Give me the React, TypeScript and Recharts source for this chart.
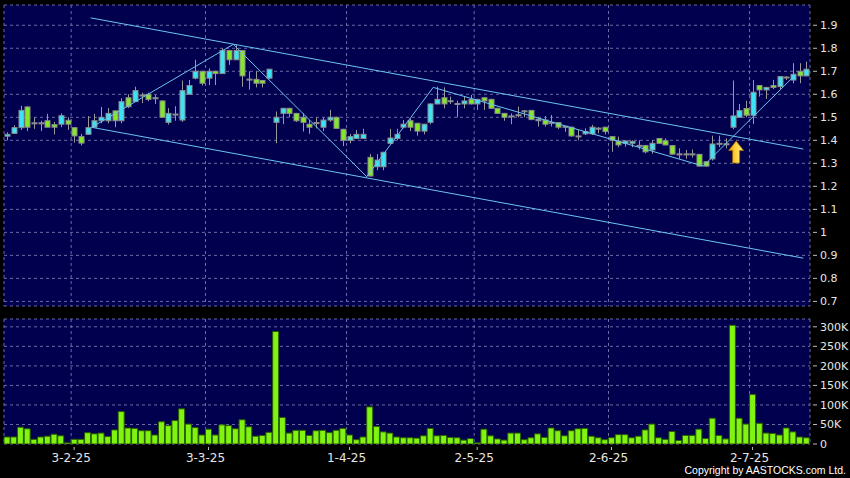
import React from "react";
import { ComposedChart, Bar, XAxis, YAxis, CartesianGrid, ReferenceLine, ReferenceDot } from "recharts";

// daily OHLC (120 sessions)
const opens = [
  1.418, 1.43, 1.455, 1.545, 1.474, 1.474, 1.485, 1.468, 1.47, 1.487,
  1.455, 1.416, 1.426, 1.457, 1.485, 1.485, 1.528, 1.485, 1.585, 1.568,
  1.593, 1.6, 1.583, 1.571, 1.478, 1.512, 1.488, 1.6, 1.67, 1.7,
  1.67, 1.7, 1.69, 1.79, 1.75, 1.79, 1.663, 1.665, 1.66, 1.67,
  1.478, 1.517, 1.539, 1.517, 1.5, 1.47, 1.474, 1.457, 1.488, 1.5,
  1.448, 1.4, 1.408, 1.408, 1.326, 1.285, 1.285, 1.387, 1.408, 1.457,
  1.485, 1.474, 1.44, 1.478, 1.558, 1.585, 1.569, 1.557, 1.558, 1.578,
  1.558, 1.585, 1.578, 1.539, 1.517, 1.504, 1.509, 1.526, 1.53, 1.485,
  1.488, 1.476, 1.477, 1.459, 1.457, 1.416, 1.428, 1.428, 1.451, 1.457,
  1.416, 1.397, 1.387, 1.387, 1.376, 1.377, 1.358, 1.408, 1.398, 1.377,
  1.339, 1.339, 1.339, 1.339, 1.307, 1.319, 1.387, 1.383, 1.457, 1.5,
  1.538, 1.509, 1.638, 1.619, 1.638, 1.633, 1.673, 1.662, 1.7, 1.68,
];
const highs = [
  1.435, 1.465, 1.55, 1.548, 1.5, 1.485, 1.515, 1.48, 1.517, 1.5,
  1.455, 1.428, 1.505, 1.515, 1.545, 1.54, 1.53, 1.583, 1.6, 1.633,
  1.607, 1.607, 1.597, 1.575, 1.54, 1.548, 1.66, 1.662, 1.75, 1.702,
  1.713, 1.702, 1.8, 1.793, 1.815, 1.792, 1.7, 1.7, 1.662, 1.71,
  1.525, 1.541, 1.541, 1.519, 1.517, 1.488, 1.5, 1.5, 1.532, 1.502,
  1.45, 1.428, 1.445, 1.45, 1.34, 1.34, 1.35, 1.45, 1.45, 1.488,
  1.495, 1.476, 1.472, 1.56, 1.633, 1.63, 1.59, 1.572, 1.59, 1.597,
  1.58, 1.587, 1.58, 1.541, 1.519, 1.517, 1.546, 1.532, 1.532, 1.5,
  1.505, 1.51, 1.479, 1.462, 1.459, 1.445, 1.452, 1.467, 1.457, 1.459,
  1.418, 1.416, 1.4, 1.4, 1.4, 1.38, 1.4, 1.41, 1.408, 1.379,
  1.365, 1.358, 1.36, 1.341, 1.309, 1.42, 1.42, 1.409, 1.66, 1.558,
  1.572, 1.662, 1.64, 1.632, 1.662, 1.679, 1.679, 1.735, 1.735, 1.742,
];
const lows = [
  1.4, 1.428, 1.445, 1.44, 1.45, 1.44, 1.457, 1.425, 1.457, 1.445,
  1.39, 1.378, 1.426, 1.457, 1.474, 1.474, 1.457, 1.474, 1.54, 1.568,
  1.562, 1.57, 1.558, 1.498, 1.468, 1.485, 1.48, 1.6, 1.665, 1.638,
  1.64, 1.64, 1.69, 1.728, 1.75, 1.633, 1.62, 1.63, 1.63, 1.665,
  1.387, 1.47, 1.5, 1.48, 1.438, 1.428, 1.452, 1.44, 1.48, 1.45,
  1.375, 1.387, 1.406, 1.406, 1.242, 1.27, 1.27, 1.385, 1.4, 1.452,
  1.44, 1.42, 1.426, 1.47, 1.556, 1.539, 1.558, 1.5, 1.539, 1.556,
  1.532, 1.532, 1.537, 1.515, 1.485, 1.47, 1.5, 1.5, 1.488, 1.46,
  1.46, 1.46, 1.448, 1.437, 1.416, 1.4, 1.423, 1.423, 1.43, 1.426,
  1.35, 1.37, 1.372, 1.37, 1.36, 1.343, 1.342, 1.385, 1.378, 1.338,
  1.32, 1.32, 1.325, 1.286, 1.285, 1.312, 1.37, 1.365, 1.448, 1.498,
  1.5, 1.471, 1.59, 1.58, 1.622, 1.619, 1.662, 1.648, 1.648, 1.678,
];
const closes = [
  1.426, 1.455, 1.53, 1.457, 1.476, 1.476, 1.457, 1.457, 1.507, 1.47,
  1.419, 1.388, 1.455, 1.485, 1.5, 1.517, 1.485, 1.568, 1.546, 1.616,
  1.597, 1.578, 1.585, 1.5, 1.517, 1.514, 1.616, 1.638, 1.7, 1.648,
  1.7, 1.69, 1.79, 1.75, 1.79, 1.68, 1.666, 1.648, 1.648, 1.709,
  1.5, 1.539, 1.517, 1.485, 1.478, 1.457, 1.477, 1.488, 1.5, 1.452,
  1.4, 1.416, 1.426, 1.426, 1.245, 1.314, 1.348, 1.41, 1.426, 1.47,
  1.457, 1.44, 1.47, 1.558, 1.578, 1.558, 1.572, 1.56, 1.571, 1.558,
  1.578, 1.571, 1.539, 1.517, 1.5, 1.506, 1.511, 1.528, 1.49, 1.492,
  1.47, 1.478, 1.457, 1.461, 1.419, 1.419, 1.438, 1.457, 1.453, 1.438,
  1.4, 1.38, 1.397, 1.395, 1.378, 1.35, 1.387, 1.387, 1.38, 1.34,
  1.341, 1.341, 1.341, 1.288, 1.288, 1.384, 1.384, 1.385, 1.506, 1.529,
  1.509, 1.609, 1.619, 1.63, 1.63, 1.677, 1.675, 1.687, 1.68, 1.709,
];
// volume in thousands of shares
const volumes = [
  18, 18, 43, 39, 12, 18, 20, 25, 21, 3,
  12, 12, 29, 26, 28, 19, 36, 83, 41, 40,
  34, 34, 23, 57, 47, 60, 90, 51, 42, 23,
  38, 23, 49, 47, 39, 62, 44, 20, 22, 30,
  288, 68, 28, 35, 35, 22, 34, 35, 29, 35,
  40, 23, 11, 18, 95, 45, 31, 28, 18, 16,
  16, 15, 21, 40, 21, 22, 17, 16, 10, 14,
  3, 38, 21, 13, 10, 28, 28, 11, 16, 26,
  17, 41, 34, 21, 34, 39, 40, 20, 16, 11,
  16, 24, 24, 16, 20, 36, 51, 16, 12, 32,
  9, 22, 22, 38, 14, 66, 22, 13, 304, 66,
  51, 127, 53, 28, 27, 23, 41, 31, 18, 16,
];

// month starts (boundary between sessions) and their labels
const dateTicks = [9.5, 29.5, 50.5, 69.5, 89.5, 110.5];
const dateLabels = ["3-2-25", "3-3-25", "1-4-25", "2-5-25", "2-6-25", "2-7-25"];
const priceTicks = [0.7, 0.8, 0.9, 1, 1.1, 1.2, 1.3, 1.4, 1.5, 1.6, 1.7, 1.8, 1.9];
const volTicks = [0, 50000, 100000, 150000, 200000, 250000, 300000];

// trend lines in (session, price)
const zigX = [12.54, 33.63, 53.5, 63.4, 103.6, 117.3];
const zigY = [1.4565, 1.817, 1.242, 1.63, 1.288, 1.684];
const upperChannel = [{ x: 12.4, y: 1.932 }, { x: 118.5, y: 1.362 }];
const lowerChannel = [{ x: 12.54, y: 1.4565 }, { x: 118.5, y: 0.888 }];
const signal = { x: 108.5, y: 1.349 };

const rows = opens.map((o, i) => ({
  i,
  o,
  h: highs[i],
  l: lows[i],
  c: closes[i],
  range: [lows[i], highs[i]],
  v: volumes[i] * 1000,
}));

const UP = "#3ae4f6";
const DOWN = "#84e82a";
const PANEL = "#00004e";
const GRID = "#6b6ba6";
const TREND = "#6cc4f0";

// volume panel layout
const VOL_H = 164;
const VOL_AXIS_H = 34;
const VOL_PLOT_BOTTOM = VOL_H - VOL_AXIS_H;

const Candle = (props: any) => {
  const { x, y, width, height, payload } = props;
  if (!payload) return null;
  const { o, h, l, c } = payload;
  const top = Math.min(y, y + height);
  const bot = Math.max(y, y + height);
  const k = h > l ? (bot - top) / (h - l) : 0;
  const py = (v: number) => top + (h - v) * k;
  const cx = Math.round(x + width / 2) + 0.5;
  const bTop = Math.min(py(o), py(c));
  const bH = Math.max(Math.abs(py(o) - py(c)), 1);
  const fill = c >= o ? UP : DOWN;
  return (
    <g>
      <line x1={cx} x2={cx} y1={top} y2={bot} stroke="#9a9a9a" strokeWidth={1} />
      <rect x={cx - 2.5} y={bTop} width={5} height={bH} fill={fill} stroke="#8c8c8c" strokeWidth={1} />
    </g>
  );
};

const Arrow = (props: any) => {
  const { cx, cy } = props;
  if (cx == null || cy == null) return null;
  const pts = [
    [0, -11], [7.5, -1.5], [3.5, -1.5], [3.5, 11], [-3.5, 11], [-3.5, -1.5], [-7.5, -1.5],
  ]
    .map(([dx, dy]) => `${cx + dx},${cy + dy}`)
    .join(" ");
  return (
    <g>
      <defs>
        <linearGradient id="arrowFill" x1="0" y1="0" x2="1" y2="0">
          <stop offset="0%" stopColor="#f3a300" />
          <stop offset="55%" stopColor="#ffd94a" />
          <stop offset="100%" stopColor="#ffe98a" />
        </linearGradient>
      </defs>
      <polygon points={pts} fill="url(#arrowFill)" stroke="#a06a00" strokeWidth={0.8} />
    </g>
  );
};

const fmtPrice = (v: number) => String(Number(v.toFixed(1)));
const fmtVol = (v: number) => (v === 0 ? "0" : `${v / 1000}K`);

const RightTick = (props: any) => {
  const { x, y, payload, fmt } = props;
  return (
    <g>
      <line x1={x + 3} x2={x + 7} y1={y} y2={y} stroke="#bbbbbb" />
      <text x={x + 10} y={y} dy="0.36em" fill="#e6e6e6" fontSize={11} fontFamily="DejaVu Sans">
        {fmt(payload.value)}
      </text>
    </g>
  );
};

const DateTick = (props: any) => {
  const { x, payload } = props;
  const idx = dateTicks.indexOf(payload.value);
  const y0 = VOL_PLOT_BOTTOM;
  return (
    <g>
      <line x1={x + 3} x2={x + 3} y1={y0 + 3} y2={y0 + 6} stroke="#bbbbbb" />
      <text x={x} y={y0 + 18} textAnchor="middle" fill="#e6e6e6" fontSize={12} fontFamily="DejaVu Sans">
        {idx >= 0 ? dateLabels[idx] : ""}
      </text>
    </g>
  );
};

export default function App() {
  const zigSegments = zigX.slice(1).map((x, n) => [
    { x: zigX[n], y: zigY[n] },
    { x, y: zigY[n + 1] },
  ]);
  return (
    <div style={{ position: "absolute", left: 0, top: 0, width: 850, height: 478, background: "#000", overflow: "hidden" }}>
      <div style={{ position: "absolute", left: 0, top: 0 }}>
        <ComposedChart width={850} height={310} data={rows} margin={{ top: 5, right: 0, bottom: 4, left: 4 }}>
          <CartesianGrid xAxisId="num" stroke={GRID} strokeDasharray="3 3" fill={PANEL} />
          <XAxis xAxisId="cat" dataKey="i" type="category" hide />
          <XAxis xAxisId="num" dataKey="i" type="number" domain={[-0.5, 119.5]} ticks={dateTicks} hide allowDataOverflow />
          <YAxis
            orientation="right"
            width={40}
            domain={[0.68, 1.988]}
            ticks={priceTicks}
            allowDataOverflow
            axisLine={false}
            tickLine={false}
            tickSize={0}
            tickMargin={0}
            interval={0}
            tick={<RightTick fmt={fmtPrice} />}
          />
          <Bar xAxisId="cat" dataKey="range" shape={<Candle />} isAnimationActive={false} />
          <ReferenceLine xAxisId="num" segment={upperChannel} stroke={TREND} strokeWidth={1} />
          <ReferenceLine xAxisId="num" segment={lowerChannel} stroke={TREND} strokeWidth={1} />
          {zigSegments.map((seg, n) => (
            <ReferenceLine key={n} xAxisId="num" segment={seg} stroke={TREND} strokeWidth={1} />
          ))}
          <ReferenceDot xAxisId="num" x={signal.x} y={signal.y} shape={<Arrow />} />
        </ComposedChart>
      </div>
      <div style={{ position: "absolute", left: 0, top: 314 }}>
        <ComposedChart width={850} height={VOL_H} data={rows} margin={{ top: 5, right: 0, bottom: 0, left: 4 }}>
          <CartesianGrid xAxisId="num" stroke={GRID} strokeDasharray="3 3" fill={PANEL} />
          <XAxis xAxisId="cat" dataKey="i" type="category" hide />
          <XAxis
            xAxisId="num"
            dataKey="i"
            type="number"
            domain={[-0.5, 119.5]}
            ticks={dateTicks}
            allowDataOverflow
            height={VOL_AXIS_H}
            axisLine={false}
            tickLine={false}
            tickSize={0}
            tickMargin={0}
            interval={0}
            tick={<DateTick />}
          />
          <YAxis
            orientation="right"
            width={40}
            domain={[0, 320000]}
            ticks={volTicks}
            allowDataOverflow
            axisLine={false}
            tickLine={false}
            tickSize={0}
            tickMargin={0}
            interval={0}
            tick={<RightTick fmt={fmtVol} />}
          />
          <Bar xAxisId="cat" dataKey="v" barSize={6} fill="#80f410" stroke="#2a5c00" strokeWidth={1} isAnimationActive={false} />
        </ComposedChart>
      </div>
      <div
        style={{
          position: "absolute",
          right: 4,
          top: 464,
          color: "#fff",
          fontSize: 10.5,
          fontFamily: "Liberation Sans",
          lineHeight: "13px",
        }}
      >
        Copyright by AASTOCKS.com Ltd.
      </div>
    </div>
  );
}
